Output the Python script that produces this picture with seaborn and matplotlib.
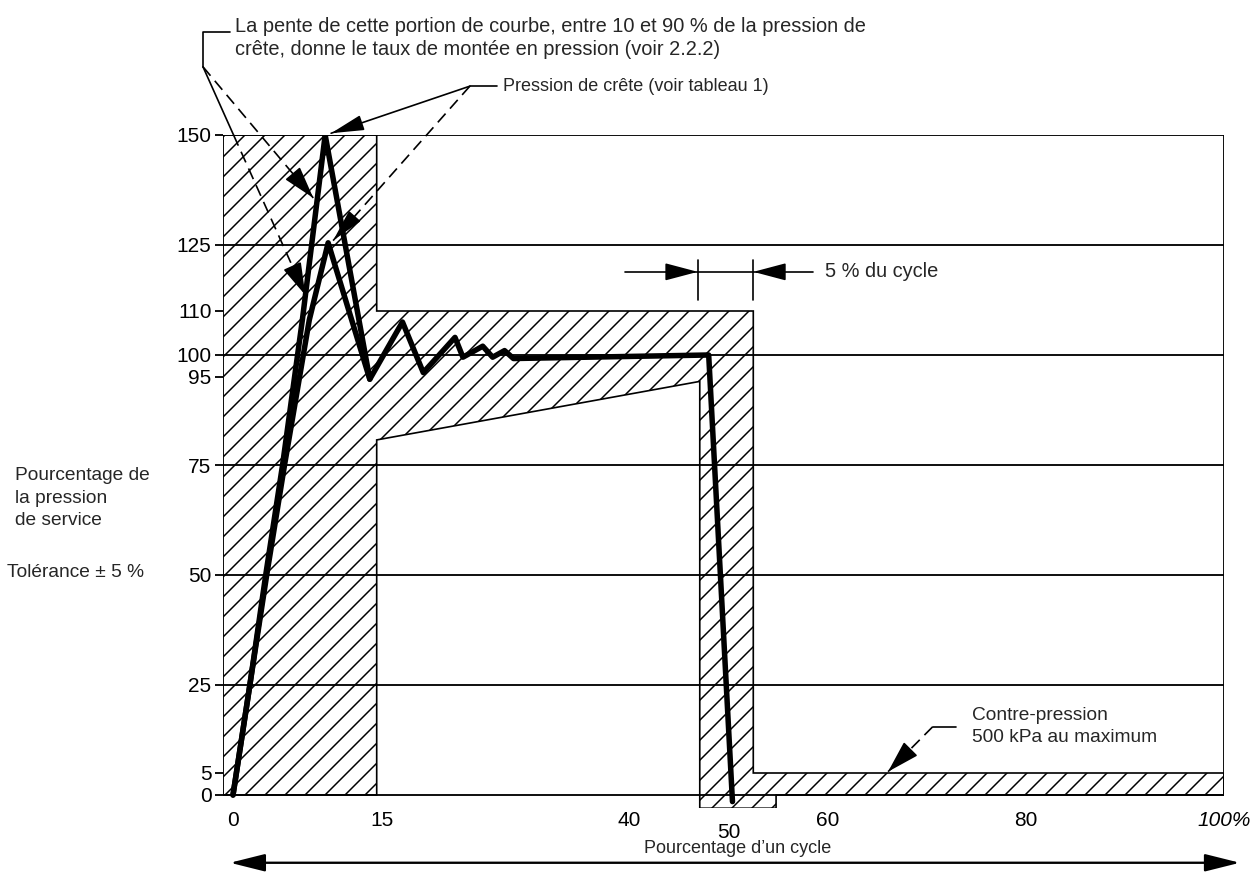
import numpy as np
import matplotlib.pyplot as plt
import seaborn as sns

# courbe de pression, crête à 150 %
cycle_a = [0, 1.7, 3.3, 5.0, 7.0, 9.3, 13.8, 17.1, 19.2, 22.4, 23.2, 25.2, 26.2, 27.4, 28.3, 48.0, 50.4]
pression_a = [0, 25, 50, 75, 108, 150, 94.5, 107.5, 96, 104, 99.5, 102, 99.5, 101, 99.2, 100, -1.5]

# courbe de pression, crête à 125 %
cycle_b = [0, 1.7, 3.4, 5.2, 7.7, 9.6, 13.8]
pression_b = [0, 25, 50, 75, 108, 125.5, 94.5]

# contour de la zone hachurée (tolérances)
zone_x = [-1, -1, 14.5, 14.5, 52.5, 52.5, 100, 100, 54.8, 54.8, 47.1, 47.1, 14.5, 14.5]
zone_y = [0, 150, 150, 110, 110, 5, 5, 0, 0, -3, -3, 94, 80.7, 0]

y_ticks = [0, 5, 25, 50, 75, 95, 100, 110, 125, 150]
x_ticks = [0, 15, 40, 50, 60, 80, 100]
x_labels = ["0", "15", "40", "50", "60", "80", "100%"]
grid_levels = [0, 25, 50, 75, 100, 125, 150]

DPI = 120
W, H = 1257, 876


def head(ax, start, tip, length=30, width=0.4, lw=1.0):
    # only the arrow head, placed at the tip of a line drawn separately
    p0 = ax.transData.transform(start)
    p1 = ax.transData.transform(tip)
    d = np.hypot(*(p0 - p1))
    back = p1 + (p0 - p1) * length / d
    xt, yt = ax.transData.inverted().transform(back)
    ax.annotate("", xy=tip, xytext=(xt, yt), annotation_clip=False,
                arrowprops=dict(arrowstyle=f"-|>,head_length=1.7,head_width={width}",
                                mutation_scale=10, color="black", lw=lw,
                                shrinkA=0, shrinkB=0))


def seg(ax, xs, ys, ls="-", lw=1.0):
    ax.plot(xs, ys, color="black", lw=lw, ls=ls, clip_on=False,
            dashes=(7, 4) if ls == "--" else (None, None), zorder=5)


def main() -> None:
    sns.set_theme(style="white")
    plt.rcParams["font.family"] = ["Liberation Sans", "DejaVu Sans"]
    plt.rcParams["hatch.linewidth"] = 0.9

    fig = plt.figure(figsize=(W / DPI, H / DPI), dpi=DPI)
    ax = fig.add_axes([223.1 / W, 1 - 808.2 / H, (1224 - 223.1) / W, (808.2 - 135) / H])
    ax.set_xlim(-1, 100)
    ax.set_ylim(-3, 150)
    for s in ax.spines.values():
        s.set_visible(False)

    ax.fill(zone_x, zone_y, facecolor="white", edgecolor="black", hatch="//", lw=1.0, zorder=1)
    for lvl in grid_levels:
        ax.plot([-1, 100], [lvl, lvl], color="black", lw=1.1, zorder=2)
    ax.plot([100, 100], [0, 150], color="black", lw=1.1, zorder=2)

    sns.lineplot(x=cycle_b, y=pression_b, sort=False, color="black", lw=3.3, ax=ax, zorder=4)
    sns.lineplot(x=cycle_a, y=pression_a, sort=False, color="black", lw=3.3, ax=ax, zorder=4)

    ax.set_yticks(y_ticks)
    ax.set_yticklabels([str(v) for v in y_ticks])
    ax.tick_params(axis="y", left=True, length=5, width=1.1, pad=2, labelsize=12.5,
                   color="black", labelcolor="black", direction="out")
    ax.set_xticks(x_ticks)
    ax.set_xticklabels(x_labels)
    ax.tick_params(axis="x", bottom=False, length=0, pad=1.5, labelsize=12.5, labelcolor="black")
    ax.xaxis.get_major_ticks()[3].set_pad(9)
    ax.get_xticklabels()[-1].set_style("italic")
    ax.set_xlabel("")
    ax.set_ylabel("")

    # pente de montée
    ax.text(0.2, 172, "La pente de cette portion de courbe, entre 10 et 90 % de la pression de\n"
            "crête, donne le taux de montée en pression (voir 2.2.2)",
            fontsize=12, va="center", ha="left", linespacing=1.3)
    seg(ax, [-0.3, -3.03, -3.03], [173.4, 173.4, 165.5])
    seg(ax, [-3.03, 8.1], [165.5, 135.7], ls="--")
    head(ax, (-3.03, 165.5), (8.1, 135.7), length=26, width=0.5)
    k = (150 - 165.5) / (113.6 - 165.5)
    xm = -3.03 + k * (7.3 + 3.03)
    seg(ax, [-3.03, xm], [165.5, 150])
    seg(ax, [xm, 7.3], [150, 113.6], ls="--")
    head(ax, (-3.03, 165.5), (7.3, 113.6), length=26, width=0.5)

    # pression de crête
    ax.text(27.2, 161.1, "Pression de crête (voir tableau 1)", fontsize=10.8, va="center", ha="left")
    seg(ax, [23.9, 26.6], [161.1, 161.1])
    seg(ax, [23.9, 9.9], [161.1, 150.4])
    head(ax, (23.9, 161.1), (9.9, 150.4), length=30)
    seg(ax, [23.9, 10.1], [161.1, 126], ls="--")
    head(ax, (23.9, 161.1), (10.1, 126), length=26)

    # 5 % du cycle
    seg(ax, [46.9, 46.9], [112.5, 121.6])
    seg(ax, [52.5, 52.5], [112.5, 121.6])
    seg(ax, [39.6, 58.5], [118.9, 118.9])
    head(ax, (39.6, 118.9), (46.9, 118.9), length=30, width=0.45)
    head(ax, (58.5, 118.9), (52.5, 118.9), length=30, width=0.45)
    ax.text(59.7, 118.9, "5 % du cycle", fontsize=12, va="center", ha="left")

    # contre-pression
    seg(ax, [70.6, 73.0], [15.5, 15.5])
    seg(ax, [70.6, 66.1], [15.5, 5.3], ls="--")
    head(ax, (70.6, 15.5), (66.1, 5.3), length=26, width=0.5)
    ax.text(74.6, 15.6, "Contre-pression\n500 kPa au maximum", fontsize=11.5,
            va="center", ha="left", linespacing=1.4)

    # axe des abscisses
    ax.text(50.9, -12.2, "Pourcentage d’un cycle", fontsize=10.8, va="center", ha="center")
    ax.annotate("", xy=(101.6, -15.4), xytext=(-0.3, -15.4), annotation_clip=False,
                arrowprops=dict(arrowstyle="<|-|>,head_length=1.8,head_width=0.45",
                                mutation_scale=10, color="black", lw=1.4,
                                shrinkA=0, shrinkB=0))

    # axe des ordonnées
    ax.text(-22.0, 67.5, "Pourcentage de\nla pression\nde service", fontsize=11.5,
            va="center", ha="left", linespacing=1.4)
    ax.text(-22.8, 50.5, "Tolérance ± 5 %", fontsize=11.5, va="center", ha="left")

    fig.savefig("out.png", dpi=DPI)


if __name__ == "__main__":
    main()
